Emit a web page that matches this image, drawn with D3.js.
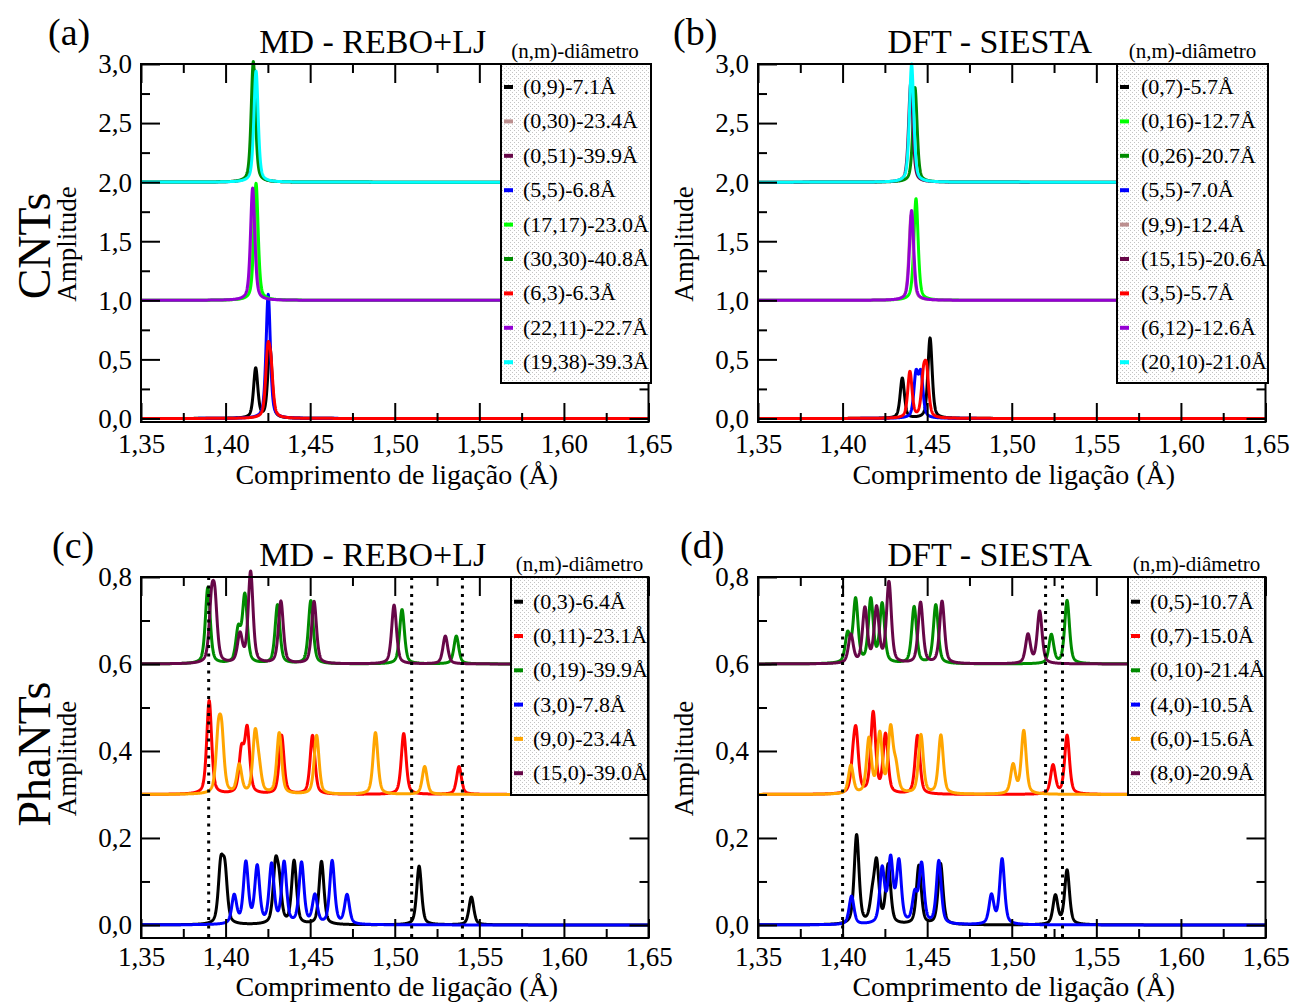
<!DOCTYPE html>
<html>
<head>
<meta charset="utf-8">
<script src="https://cdn.jsdelivr.net/npm/d3@7"></script>
<style>
  body { margin: 0; background: #fff; }
  svg { display: block; }
</style>
</head>
<body>
<svg id="fig" width="1293" height="1003"></svg>
<script>
// Bond-length distributions of nanotubes. Each series is a list of
// [bond length (Å), peak amplitude]; curves are the broadened sum of peaks,
// stacked with a vertical offset per diameter group.

// ---- x axis (bond length, Å) ----
const xMajor = [1.35, 1.40, 1.45, 1.50, 1.55, 1.60, 1.65];
const xMinor = [1.375, 1.425, 1.475, 1.525, 1.575, 1.625];

// ---- (a) CNTs, MD - REBO+LJ ----
const cntMdLabels = ["(0,9)-7.1Å", "(0,30)-23.4Å", "(0,51)-39.9Å", "(5,5)-6.8Å", "(17,17)-23.0Å",
                     "(30,30)-40.8Å", "(6,3)-6.3Å", "(22,11)-22.7Å", "(19,38)-39.3Å"];
const cntMdOffsets = [0, 1, 2, 0, 1, 2, 0, 1, 2];
const cntMdPeaks = [
  [[1.4178, 0.42], [1.4262, 0.60]],
  [[1.4172, 0.92]],
  [[1.4170, 0.95]],
  [[1.4252, 1.05]],
  [[1.4180, 0.99]],
  [[1.4164, 1.02]],
  [[1.4249, 0.50], [1.4268, 0.36]],
  [[1.4160, 0.95]],
  [[1.4180, 0.94]]
];

// ---- (b) CNTs, DFT - SIESTA ----
const cntDftLabels = ["(0,7)-5.7Å", "(0,16)-12.7Å", "(0,26)-20.7Å", "(5,5)-7.0Å", "(9,9)-12.4Å",
                      "(15,15)-20.6Å", "(3,5)-5.7Å", "(6,12)-12.6Å", "(20,10)-21.0Å"];
const cntDftOffsets = [0, 1, 2, 0, 1, 2, 0, 1, 2];
const cntDftPeaks = [
  [[1.4353, 0.34], [1.4517, 0.68]],
  [[1.4434, 0.86]],
  [[1.4428, 0.80]],
  [[1.4434, 0.36], [1.4463, 0.36]],
  [[1.4405, 0.72]],
  [[1.4403, 0.84]],
  [[1.4398, 0.39], [1.4478, 0.31], [1.4497, 0.35]],
  [[1.4408, 0.76]],
  [[1.4408, 1.00]]
];

// ---- (c) PhaNTs, MD - REBO+LJ ----
const phaMdLabels = ["(0,3)-6.4Å", "(0,11)-23.1Å", "(0,19)-39.9Å", "(3,0)-7.8Å", "(9,0)-23.4Å", "(15,0)-39.0Å"];
const phaMdOffsets = [0, 0.3, 0.6, 0, 0.3, 0.6];
const phaMdPeaks = [
  [[1.3971, 0.125], [1.3996, 0.115], [1.4295, 0.125], [1.4317, 0.08], [1.4405, 0.145], [1.4567, 0.145], [1.5144, 0.135], [1.5453, 0.064]],
  [[1.3903, 0.215], [1.4094, 0.095], [1.4128, 0.145], [1.4331, 0.135], [1.4514, 0.135], [1.5053, 0.14], [1.5380, 0.064]],
  [[1.3895, 0.175], [1.4075, 0.075], [1.4114, 0.155], [1.4307, 0.135], [1.4504, 0.145], [1.5043, 0.125], [1.5364, 0.064]],
  [[1.4051, 0.065], [1.4120, 0.14], [1.4187, 0.13], [1.4272, 0.135], [1.4346, 0.14], [1.4449, 0.14], [1.4528, 0.065], [1.4630, 0.145], [1.4718, 0.067]],
  [[1.3957, 0.12], [1.3977, 0.12], [1.4081, 0.065], [1.4175, 0.135], [1.4199, 0.045], [1.4317, 0.14], [1.4538, 0.135], [1.4886, 0.142], [1.5177, 0.064]],
  [[1.3917, 0.125], [1.3937, 0.125], [1.4085, 0.065], [1.4148, 0.21], [1.4327, 0.143], [1.4523, 0.143], [1.4996, 0.135], [1.5299, 0.064]]
];
const phaMdGuides = [1.39, 1.51, 1.54];

// ---- (d) PhaNTs, DFT - SIESTA ----
const phaDftLabels = ["(0,5)-10.7Å", "(0,7)-15.0Å", "(0,10)-21.4Å", "(4,0)-10.5Å", "(6,0)-15.6Å", "(8,0)-20.9Å"];
const phaDftOffsets = [0, 0.3, 0.6, 0, 0.3, 0.6];
const phaDftPeaks = [
  [[1.4083, 0.205], [1.4175, 0.05], [1.4201, 0.135], [1.4270, 0.135], [1.4451, 0.135], [1.4579, 0.14], [1.5258, 0.066], [1.5327, 0.125]],
  [[1.4063, 0.055], [1.4080, 0.125], [1.4181, 0.185], [1.4254, 0.135], [1.4443, 0.135], [1.5244, 0.066], [1.5327, 0.135]],
  [[1.4030, 0.065], [1.4077, 0.145], [1.4167, 0.145], [1.4234, 0.135], [1.4423, 0.13], [1.4551, 0.135], [1.5234, 0.066], [1.5327, 0.145]],
  [[1.4053, 0.065], [1.4234, 0.125], [1.4284, 0.145], [1.4333, 0.14], [1.4427, 0.065], [1.4467, 0.135], [1.4569, 0.145], [1.4880, 0.066], [1.4943, 0.15]],
  [[1.4049, 0.065], [1.4156, 0.125], [1.4220, 0.135], [1.4284, 0.145], [1.4315, 0.055], [1.4463, 0.135], [1.4581, 0.135], [1.5008, 0.066], [1.5071, 0.145]],
  [[1.4049, 0.065], [1.4132, 0.125], [1.4201, 0.125], [1.4274, 0.185], [1.4461, 0.14], [1.4588, 0.143], [1.5096, 0.066], [1.5165, 0.12]]
];
const phaDftGuides = [1.40, 1.52, 1.53];

// ---- series colours ----
const cntMdColors  = ["#000000", "#bc8f8f", "#670748", "#0000ff", "#00ff00", "#008b00", "#ff0000", "#9400d3", "#00ffff"];
const cntDftColors = ["#000000", "#00ff00", "#008b00", "#0000ff", "#bc8f8f", "#670748", "#ff0000", "#9400d3", "#00ffff"];
const phaColors    = ["#000000", "#ff0000", "#008b00", "#0000ff", "#ffa500", "#670748"];

const FONT = '"Liberation Serif", "Times New Roman", Times, serif';
const svg = d3.select("#fig").style("font-family", FONT);

// stippled legend background
const pat = svg.append("defs").append("pattern")
  .attr("id", "stipple").attr("width", 4).attr("height", 4)
  .attr("patternUnits", "userSpaceOnUse");
pat.append("rect").attr("width", 4).attr("height", 4).attr("fill", "#ffffff");
pat.append("rect").attr("x", 0).attr("y", 0).attr("width", 1).attr("height", 1).attr("fill", "#c4c4c4");
pat.append("rect").attr("x", 2).attr("y", 2).attr("width", 1).attr("height", 1).attr("fill", "#c4c4c4");

// sampling grid for the broadened profiles
const grid = d3.range(0, 3001).map(i => 1.35 + i * 0.0001);

// pseudo-Voigt broadening of a peak list
function profile(peaks, fwhm) {
  const hw = fwhm / 2;
  return grid.map(b => {
    let s = 0;
    for (const [c, h] of peaks) {
      const u = (b - c) / hw;
      s += h * (0.5 / (1 + u * u) + 0.5 * Math.exp(-Math.LN2 * u * u));
    }
    return [b, s];
  });
}

const fmtX = d => d3.format(".2f")(d).replace(".", ",");
const fmtY = d => d3.format(".1f")(d).replace(".", ",");

function drawPanel(p) {
  const x = d3.scaleLinear().domain([1.35, 1.65]).range([p.x0, p.x1]);
  const y = d3.scaleLinear().domain(p.yDomain).range([p.y0, p.y1]);
  const g = svg.append("g");

  // spectra, drawn in legend order
  const line = d3.line().x(d => x(d[0])).y(d => y(d[1]));
  p.peaks.forEach((pk, i) => {
    const pts = profile(pk, p.fwhm).map(([b, a]) => [b, a + p.offsets[i]]);
    g.append("path").attr("d", line(pts))
      .attr("fill", "none").attr("stroke", p.colors[i])
      .attr("stroke-width", 3).attr("stroke-linejoin", "round");
  });

  // inward ticks on all four sides
  const styleAxis = sel => {
    sel.attr("font-family", FONT).attr("font-size", 27);
    sel.select(".domain").remove();
    sel.selectAll(".tick line").attr("stroke", "#000").attr("stroke-width", 2);
    sel.selectAll(".tick text").attr("fill", "#000");
  };
  const bx = g.append("g").attr("transform", `translate(0,${p.y0})`)
    .call(d3.axisBottom(x).tickValues(xMajor).tickSize(-19).tickSizeOuter(0).tickFormat(fmtX)).call(styleAxis);
  bx.selectAll(".tick text").attr("y", p.tickDy).attr("dy", null);
  g.append("g").attr("transform", `translate(0,${p.y0})`)
    .call(d3.axisBottom(x).tickValues(xMinor).tickSize(-9).tickSizeOuter(0).tickFormat("")).call(styleAxis);
  g.append("g").attr("transform", `translate(0,${p.y1})`)
    .call(d3.axisTop(x).tickValues(xMajor).tickSize(-19).tickSizeOuter(0).tickFormat("")).call(styleAxis);
  g.append("g").attr("transform", `translate(0,${p.y1})`)
    .call(d3.axisTop(x).tickValues(xMinor).tickSize(-9).tickSizeOuter(0).tickFormat("")).call(styleAxis);
  const ly = g.append("g").attr("transform", `translate(${p.x0},0)`)
    .call(d3.axisLeft(y).tickValues(p.yMajor).tickSize(-19).tickSizeOuter(0).tickFormat(fmtY)).call(styleAxis);
  ly.selectAll(".tick text").attr("x", -9).attr("dy", "0.33em");
  g.append("g").attr("transform", `translate(${p.x0},0)`)
    .call(d3.axisLeft(y).tickValues(p.yMinor).tickSize(-9).tickSizeOuter(0).tickFormat("")).call(styleAxis);
  g.append("g").attr("transform", `translate(${p.x1},0)`)
    .call(d3.axisRight(y).tickValues(p.yMajor).tickSize(-19).tickSizeOuter(0).tickFormat("")).call(styleAxis);
  g.append("g").attr("transform", `translate(${p.x1},0)`)
    .call(d3.axisRight(y).tickValues(p.yMinor).tickSize(-9).tickSizeOuter(0).tickFormat("")).call(styleAxis);

  // frame
  g.append("rect").attr("x", p.x0).attr("y", p.y1)
    .attr("width", p.x1 - p.x0).attr("height", p.y0 - p.y1)
    .attr("fill", "none").attr("stroke", "#000").attr("stroke-width", 2);

  // dotted reference bond lengths
  (p.guides || []).forEach(v => {
    g.append("line").attr("x1", x(v)).attr("x2", x(v)).attr("y1", p.y1).attr("y2", p.y0)
      .attr("stroke", "#000").attr("stroke-width", 3).attr("stroke-dasharray", "3,5.5");
  });

  // legend
  const L = p.legend;
  g.append("text").attr("x", L.x + L.w / 2 + L.titleDx).attr("y", L.y - 6)
    .attr("text-anchor", "middle").attr("font-size", 21).text("(n,m)-diâmetro");
  g.append("rect").attr("x", L.x).attr("y", L.y).attr("width", L.w).attr("height", L.h)
    .attr("fill", "url(#stipple)").attr("stroke", "#000").attr("stroke-width", 2);
  p.labels.forEach((lab, i) => {
    const cy = L.y + L.first + i * L.step;
    g.append("line").attr("x1", L.x + 3).attr("x2", L.x + 12).attr("y1", cy).attr("y2", cy)
      .attr("stroke", p.colors[i]).attr("stroke-width", 4);
    g.append("text").attr("x", L.x + L.textDx).attr("y", cy + 7)
      .attr("font-size", 22).text(lab);
  });

  // titles
  const xc = (p.x0 + p.x1) / 2;
  g.append("text").attr("x", p.tag[1]).attr("y", p.tag[2]).attr("font-size", 38).text(p.tag[0]);
  g.append("text").attr("x", xc - 22).attr("y", p.y1 - 11)
    .attr("text-anchor", "middle").attr("font-size", 34).text(p.title);
  g.append("text").attr("x", xc + 2).attr("y", p.y0 + p.xTitleDy)
    .attr("text-anchor", "middle").attr("font-size", 28).text("Comprimento de ligação (Å)");
  const ym = (p.y0 + p.y1) / 2 + 1;
  g.append("text").attr("transform", `translate(${p.x0 - 65},${ym}) rotate(-90)`)
    .attr("text-anchor", "middle").attr("font-size", 27).text("Amplitude");
}

const yMajA = [0, 0.5, 1.0, 1.5, 2.0, 2.5, 3.0];
const yMinA = [0.25, 0.75, 1.25, 1.75, 2.25, 2.75];
const yMajC = [0, 0.2, 0.4, 0.6, 0.8];
const yMinC = [0.1, 0.3, 0.5, 0.7];

drawPanel({
  x0: 141, x1: 648.5, y0: 422, y1: 64, yDomain: [-0.03, 3.0], yMajor: yMajA, yMinor: yMinA,
  peaks: cntMdPeaks, offsets: cntMdOffsets, colors: cntMdColors, labels: cntMdLabels, fwhm: 0.003,
  legend: { x: 501, y: 64, w: 150, h: 319, first: 23, step: 34.4, textDx: 22, titleDx: -1 },
  tag: ["(a)", 48, 45], title: "MD - REBO+LJ", tickDy: 31, xTitleDy: 62
});
drawPanel({
  x0: 758, x1: 1265.5, y0: 422, y1: 64, yDomain: [-0.03, 3.0], yMajor: yMajA, yMinor: yMinA,
  peaks: cntDftPeaks, offsets: cntDftOffsets, colors: cntDftColors, labels: cntDftLabels, fwhm: 0.003,
  legend: { x: 1117, y: 64, w: 151, h: 319, first: 23, step: 34.4, textDx: 24, titleDx: 0 },
  tag: ["(b)", 673, 45], title: "DFT - SIESTA", tickDy: 31, xTitleDy: 62
});
drawPanel({
  x0: 141, x1: 648.5, y0: 938, y1: 577, yDomain: [-0.03, 0.8], yMajor: yMajC, yMinor: yMinC,
  peaks: phaMdPeaks, offsets: phaMdOffsets, colors: phaColors, labels: phaMdLabels, fwhm: 0.0034,
  guides: phaMdGuides,
  legend: { x: 511, y: 577, w: 137, h: 218, first: 24.7, step: 34.3, textDx: 22, titleDx: 0 },
  tag: ["(c)", 52, 558], title: "MD - REBO+LJ", tickDy: 28, xTitleDy: 58
});
drawPanel({
  x0: 758, x1: 1265.5, y0: 938, y1: 577, yDomain: [-0.03, 0.8], yMajor: yMajC, yMinor: yMinC,
  peaks: phaDftPeaks, offsets: phaDftOffsets, colors: phaColors, labels: phaDftLabels, fwhm: 0.0034,
  guides: phaDftGuides,
  legend: { x: 1128, y: 577, w: 137, h: 218, first: 24.7, step: 34.3, textDx: 22, titleDx: 0 },
  tag: ["(d)", 680, 558], title: "DFT - SIESTA", tickDy: 28, xTitleDy: 58
});

// row labels
svg.append("text").attr("transform", "translate(50,246) rotate(-90)")
  .attr("text-anchor", "middle").attr("font-size", 46).text("CNTs");
svg.append("text").attr("transform", "translate(50,754) rotate(-90)")
  .attr("text-anchor", "middle").attr("font-size", 46).text("PhaNTs");
</script>
</body>
</html>
